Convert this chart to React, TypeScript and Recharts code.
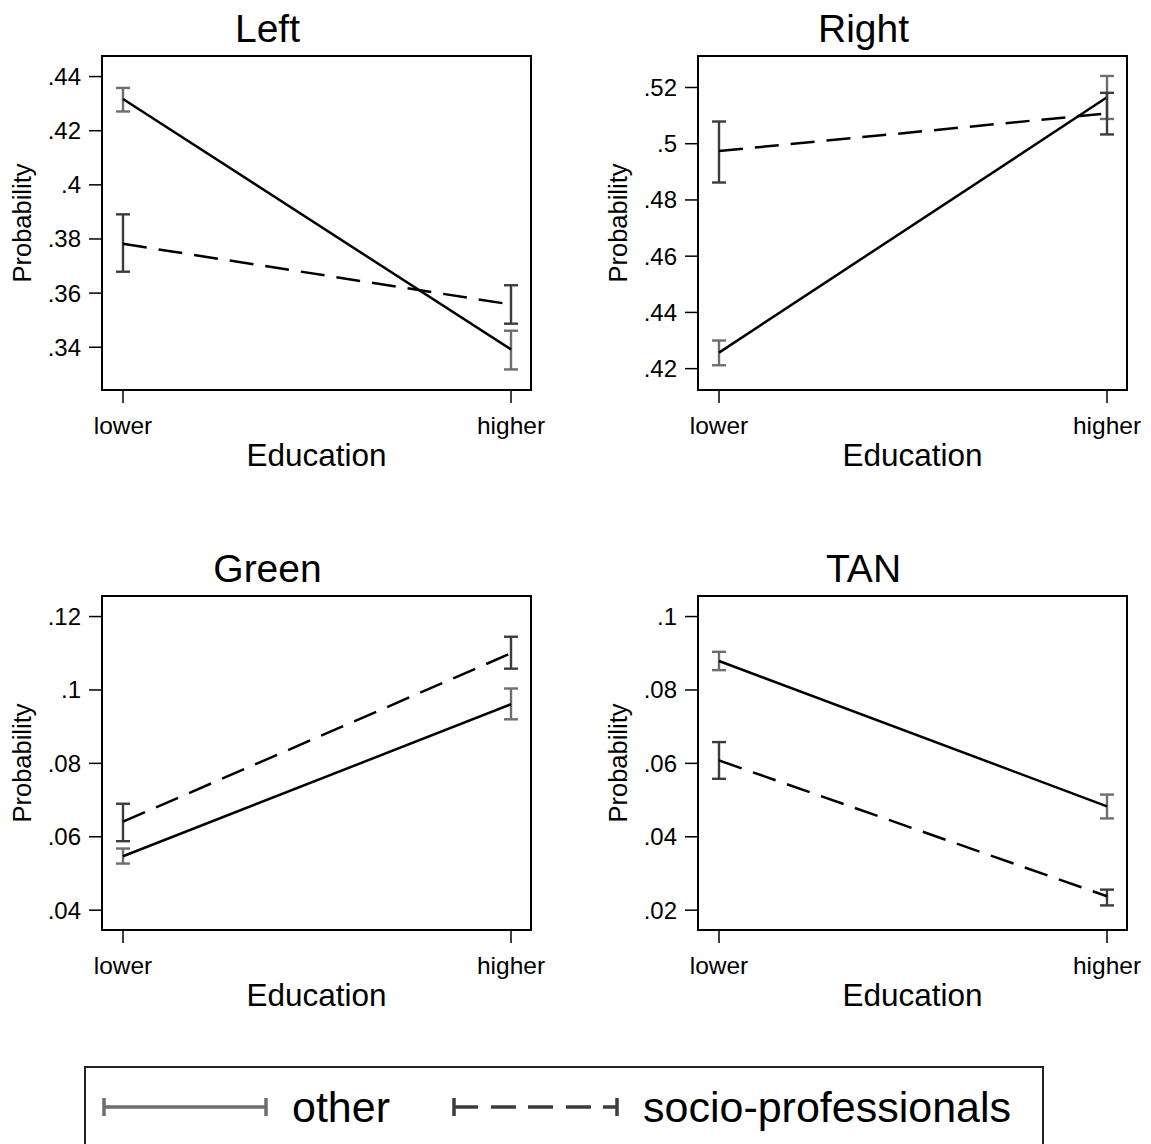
import React from 'react';
import { LineChart, Line, XAxis, YAxis, ErrorBar, ReferenceArea } from 'recharts';

// education levels on the x axis
const categories = ['lower', 'higher'];

// predicted probabilities with 95% CIs, per party family
const leftOther = [0.4317, 0.3392];
const leftOtherCI = [[0.4271, 0.4358], [0.3318, 0.3461]];
const leftSocio = [0.3782, 0.3558];
const leftSocioCI = [[0.3679, 0.3891], [0.3487, 0.3629]];

const rightOther = [0.4257, 0.5165];
const rightOtherCI = [[0.4212, 0.43], [0.5088, 0.5241]];
const rightSocio = [0.4974, 0.5108];
const rightSocioCI = [[0.4862, 0.5079], [0.5033, 0.5181]];

const greenOther = [0.0547, 0.0961];
const greenOtherCI = [[0.0527, 0.0568], [0.092, 0.1004]];
const greenSocio = [0.0641, 0.11];
const greenSocioCI = [[0.0588, 0.069], [0.1058, 0.1145]];

const tanOther = [0.0879, 0.0483];
const tanOtherCI = [[0.0854, 0.0904], [0.045, 0.0515]];
const tanSocio = [0.0608, 0.0238];
const tanSocioCI = [[0.0558, 0.0658], [0.0213, 0.0256]];

const leftTicks = [0.34, 0.36, 0.38, 0.4, 0.42, 0.44];
const rightTicks = [0.42, 0.44, 0.46, 0.48, 0.5, 0.52];
const greenTicks = [0.04, 0.06, 0.08, 0.1, 0.12];
const tanTicks = [0.02, 0.04, 0.06, 0.08, 0.1];

const X_DOMAIN: [number, number] = [-21 / 388, 1 + 20 / 388];
const FONT = '"Liberation Sans", Arial, Helvetica, sans-serif';

const buildRows = (
  other: number[],
  otherCI: number[][],
  socio: number[],
  socioCI: number[][]
) =>
  categories.map((c, i) => ({
    x: i,
    label: c,
    other: other[i],
    otherErr: [other[i] - otherCI[i][0], otherCI[i][1] - other[i]],
    socio: socio[i],
    socioErr: [socio[i] - socioCI[i][0], socioCI[i][1] - socio[i]],
  }));

const fmt = (v: number) => String(+v.toFixed(2)).replace(/^0/, '');

const panels = [
  { title: 'Left', rows: buildRows(leftOther, leftOtherCI, leftSocio, leftSocioCI), ticks: leftTicks, domain: [0.3242, 0.4476], left: 0, top: 0 },
  { title: 'Right', rows: buildRows(rightOther, rightOtherCI, rightSocio, rightSocioCI), ticks: rightTicks, domain: [0.4124, 0.5312], left: 596, top: 0 },
  { title: 'Green', rows: buildRows(greenOther, greenOtherCI, greenSocio, greenSocioCI), ticks: greenTicks, domain: [0.0346, 0.1256], left: 0, top: 540 },
  { title: 'TAN', rows: buildRows(tanOther, tanOtherCI, tanSocio, tanSocioCI), ticks: tanTicks, domain: [0.0146, 0.1056], left: 596, top: 540 },
];

const Panel = ({ p }: { p: (typeof panels)[number] }) => (
  <div style={{ position: 'absolute', left: p.left, top: p.top, width: 575, height: 480 }}>
    <div
      style={{
        position: 'absolute', left: 0, top: 9, width: 535, textAlign: 'center',
        fontSize: 39, lineHeight: '1', color: '#000',
      }}
    >
      {p.title}
    </div>
    <LineChart width={575} height={480} data={p.rows} margin={{ top: 56, right: 44, bottom: 0, left: 0 }}>
      <XAxis
        dataKey="x"
        type="number"
        domain={X_DOMAIN}
        ticks={[0, 1]}
        interval={0}
        allowDataOverflow
        tickFormatter={(v: number) => categories[Math.round(v)]}
        axisLine={false}
        tickSize={13}
        tickMargin={14}
        tickLine={{ stroke: '#000', strokeWidth: 1.5 }}
        tick={{ fill: '#000', fontSize: 24.5 }}
        height={90}
        label={{ value: 'Education', position: 'insideBottom', offset: 14, fill: '#000', fontSize: 31.5 }}
      />
      <YAxis
        type="number"
        domain={p.domain}
        ticks={p.ticks}
        interval={0}
        allowDataOverflow
        tickFormatter={fmt}
        width={102}
        axisLine={false}
        tickSize={13}
        tickMargin={8}
        tickLine={{ stroke: '#000', strokeWidth: 1.5 }}
        tick={{ fill: '#000', fontSize: 24 }}
        label={{
          value: 'Probability', angle: -90, position: 'insideLeft', offset: 22,
          fill: '#000', fontSize: 25.5, style: { textAnchor: 'middle' },
        }}
      />
      <ReferenceArea
        x1={X_DOMAIN[0]}
        x2={X_DOMAIN[1]}
        y1={p.domain[0]}
        y2={p.domain[1]}
        ifOverflow="visible"
        fill="none"
        fillOpacity={0}
        stroke="#000"
        strokeWidth={2}
      />
      <Line dataKey="other" stroke="#000" strokeWidth={2.5} dot={false} activeDot={false} isAnimationActive={false}>
        <ErrorBar dataKey="otherErr" direction="y" width={7} stroke="#6e6e6e" strokeWidth={2.4} isAnimationActive={false} />
      </Line>
      <Line
        dataKey="socio"
        stroke="#000"
        strokeWidth={2.5}
        strokeDasharray="24 12"
        dot={false}
        activeDot={false}
        isAnimationActive={false}
      >
        <ErrorBar dataKey="socioErr" direction="y" width={7} stroke="#3c3c3c" strokeWidth={2.4} isAnimationActive={false} />
      </Line>
    </LineChart>
  </div>
);

const LegendBox = () => (
  <svg style={{ position: 'absolute', left: 0, top: 0 }} width={1151} height={1144}>
    <rect x={85} y={1067} width={958} height={120} fill="none" stroke="#222" strokeWidth={2} />
    <line x1={104} y1={1107} x2={266} y2={1107} stroke="#6e6e6e" strokeWidth={3.5} />
    <line x1={104} y1={1098} x2={104} y2={1116} stroke="#6e6e6e" strokeWidth={3.5} />
    <line x1={266} y1={1098} x2={266} y2={1116} stroke="#6e6e6e" strokeWidth={3.5} />
    <text x={292} y={1122} fontSize={43} fill="#000">other</text>
    <line x1={454} y1={1107} x2={617} y2={1107} stroke="#3c3c3c" strokeWidth={3.5} strokeDasharray="24 13 25 12 25 13 25 12 14" />
    <line x1={454} y1={1098} x2={454} y2={1116} stroke="#3c3c3c" strokeWidth={3.5} />
    <line x1={617} y1={1098} x2={617} y2={1116} stroke="#3c3c3c" strokeWidth={3.5} />
    <text x={643} y={1122} fontSize={43} fill="#000">socio-professionals</text>
  </svg>
);

export default function App() {
  return (
    <div
      style={{
        position: 'absolute', left: 0, top: 0, width: 1151, height: 1144,
        overflow: 'hidden', background: '#fff', fontFamily: FONT,
      }}
    >
      {panels.map((p) => (
        <Panel key={p.title} p={p} />
      ))}
      <LegendBox />
    </div>
  );
}
